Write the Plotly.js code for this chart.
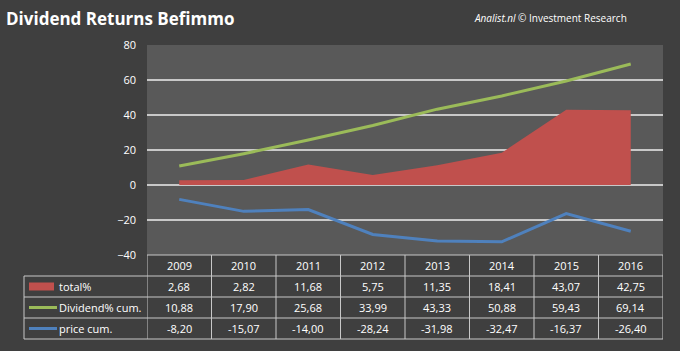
<!DOCTYPE html>
<html><head><meta charset="utf-8">
<script src="https://cdn.plot.ly/plotly-3.0.1.min.js"></script>
<style>html,body{margin:0;padding:0;background:#3f3f3f;}#c{width:680px;height:351px;}</style>
</head><body><div id="c"></div>
<script>
const years = ['2009','2010','2011','2012','2013','2014','2015','2016'];
const totalPct = [2.68, 2.82, 11.68, 5.75, 11.35, 18.41, 43.07, 42.75];
const dividendCum = [10.88, 17.90, 25.68, 33.99, 43.33, 50.88, 59.43, 69.14];
const priceCum = [-8.20, -15.07, -14.00, -28.24, -31.98, -32.47, -16.37, -26.40];
const seriesNames = ['total%', 'Dividend% cum.', 'price cum.'];
const yTicks = [-40, -20, 0, 20, 40, 60, 80];

const W = 680, H = 351;
const L = 147, R = 663, T = 45, B = 255;
const px = x => (x - L) / (R - L);
const py = y => (B - y) / (B - T);
const fmt = v => v.toFixed(2).replace('.', ',');
const gridCol = '#c8c8c8';
const red = '#c0504d', green = '#9bbb59', blue = '#4f81bd';
const font = 'Open Sans, Noto Sans, sans-serif';

const traces = [
  {x: years, y: totalPct, type: 'scatter', mode: 'lines', fill: 'tozeroy',
   fillcolor: red, line: {width: 0, color: red}, name: seriesNames[0], hoverinfo: 'skip'},
  {x: years, y: dividendCum, type: 'scatter', mode: 'lines',
   line: {width: 3, color: green}, name: seriesNames[1]},
  {x: years, y: priceCum, type: 'scatter', mode: 'lines',
   line: {width: 3, color: blue}, name: seriesNames[2]}
];

const rowsY = [255, 276, 297, 318, 339];
const shapes = [];
const annotations = [];
for (let i = 0; i <= years.length; i++) {
  shapes.push({type: 'line', xref: 'x', yref: 'paper', x0: i - 0.5, x1: i - 0.5,
    y0: py(rowsY[0]), y1: py(rowsY[4]), line: {color: gridCol, width: 1}});
}
for (let r = 0; r < rowsY.length; r++) {
  shapes.push({type: 'line', xref: 'paper', yref: 'paper',
    x0: r === 0 ? 0 : px(24), x1: 1, y0: py(rowsY[r]), y1: py(rowsY[r]),
    line: {color: gridCol, width: 1}});
}
shapes.push({type: 'line', xref: 'paper', yref: 'paper', x0: px(24), x1: px(24),
  y0: py(rowsY[1]), y1: py(rowsY[4]), line: {color: gridCol, width: 1}});
const keyMid = r => py((rowsY[r] + rowsY[r + 1]) / 2);
shapes.push({type: 'rect', xref: 'paper', yref: 'paper', x0: px(29), x1: px(54),
  y0: keyMid(1) - 4 / 210, y1: keyMid(1) + 4 / 210, fillcolor: red, line: {width: 0}});
shapes.push({type: 'line', xref: 'paper', yref: 'paper', x0: px(29), x1: px(57),
  y0: keyMid(2), y1: keyMid(2), line: {color: green, width: 3}});
shapes.push({type: 'line', xref: 'paper', yref: 'paper', x0: px(29), x1: px(57),
  y0: keyMid(3), y1: keyMid(3), line: {color: blue, width: 3}});

const txt = (x, y, text, xref, anchor) => ({x, y, xref, yref: 'paper', text, showarrow: false,
  xanchor: anchor || 'center', yanchor: 'middle', font: {family: font, size: 11, color: '#ffffff'}});
const seriesData = [totalPct, dividendCum, priceCum];
years.forEach((yr, i) => {
  annotations.push(txt(i, keyMid(0), yr, 'x'));
  seriesData.forEach((s, r) => annotations.push(txt(i, keyMid(r + 1), fmt(s[i]), 'x')));
});
seriesNames.forEach((n, r) => annotations.push(txt(px(57), keyMid(r + 1), n, 'paper', 'left')));

annotations.push({xref: 'paper', yref: 'paper', x: px(4), y: py(18), xanchor: 'left', yanchor: 'middle',
  text: '<b>Dividend Returns Befimmo</b>', showarrow: false,
  font: {family: font, size: 17, color: '#ffffff'}});
annotations.push({xref: 'paper', yref: 'paper', x: px(629), y: py(18), xanchor: 'right', yanchor: 'middle',
  text: '<i>Analist.nl</i> © Investment Research', showarrow: false,
  font: {family: font, size: 10, color: '#ffffff'}});

const layout = {
  width: W, height: H,
  paper_bgcolor: '#3f3f3f', plot_bgcolor: '#595959',
  margin: {l: L, r: W - R, t: T, b: H - B, pad: 0},
  showlegend: false,
  xaxis: {type: 'category', range: [-0.5, 7.5], showticklabels: false, showgrid: false,
    zeroline: false, showline: false, ticks: ''},
  yaxis: {range: [-40, 80], tickvals: yTicks, showgrid: true, gridcolor: gridCol, gridwidth: 1.2,
    zeroline: true, zerolinecolor: gridCol, zerolinewidth: 1.2, showline: false, ticks: '',
    tickfont: {family: font, size: 11, color: '#ffffff'}, ticklabelstandoff: 10},
  shapes, annotations
};
Plotly.newPlot('c', traces, layout, {staticPlot: true, displayModeBar: false});
</script></body></html>
